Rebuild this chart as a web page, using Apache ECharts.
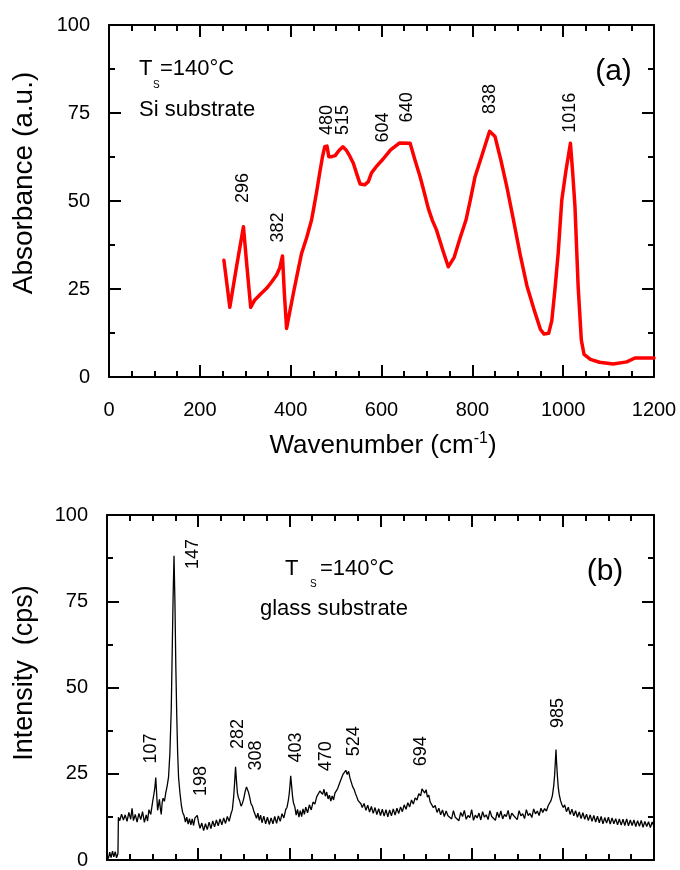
<!DOCTYPE html>
<html>
<head>
<meta charset="utf-8">
<title>IR absorbance and Raman spectra</title>
<script src="https://cdn.jsdelivr.net/npm/echarts@6/dist/echarts.min.js"></script>
<style>
  html, body { margin: 0; padding: 0; background: #fff; }
  #chart { width: 680px; height: 870px; }
</style>
</head>
<body>
<div id="chart"></div>
<script>
// ---- (a) IR absorbance, Si substrate ----
const irWavenumber = [253, 266, 281, 296, 304, 312, 321, 334, 347, 358, 369, 376, 382, 386, 391, 398, 406, 415, 424, 435,
  446, 450, 457, 464, 470, 475, 480, 484, 490, 498, 506, 515, 522, 530, 538, 546, 553, 563, 571, 578,
  590, 604, 620, 640, 663, 674, 685, 694, 703, 712, 721, 735, 747, 760, 773, 786, 796, 806, 820, 838,
  850, 863, 876, 890, 905, 920, 935, 950, 958, 968, 975, 982, 989, 997, 1006, 1016, 1021, 1026, 1033, 1040,
  1046, 1060, 1080, 1110, 1140, 1158, 1200];
const irAbsorbance = [33.2, 19.8, 31.5, 42.7, 31.0, 19.8, 21.9, 23.6, 25.2, 27.0, 29.0, 31.0, 34.4, 24.0, 13.8, 18.5, 23.8, 29.5, 35.1, 39.5,
  44.6, 47.4, 52.5, 58.0, 62.5, 65.4, 65.6, 62.6, 62.6, 62.9, 64.3, 65.4, 64.5, 62.8, 60.7, 57.5, 54.8, 54.6, 55.5, 58.0,
  60.0, 62.0, 64.5, 66.5, 66.4, 61.5, 56.9, 52.5, 47.9, 44.5, 41.8, 36.0, 31.3, 34.0, 39.5, 44.6, 50.5, 56.9, 62.5, 69.8,
  68.3, 61.5, 54.0, 45.0, 35.0, 26.0, 19.5, 13.5, 12.2, 12.4, 16.0, 25.0, 35.1, 50.3, 58.5, 66.4, 58.0, 48.4, 25.7, 10.5,
  6.4, 5.0, 4.2, 3.7, 4.3, 5.4, 5.4];
const irPeaks = [296, 382, 480, 515, 604, 640, 838, 1016];
const irPeakLabelHeight = [53.7, 42.5, 73.0, 73.0, 70.9, 76.6, 79.0, 75.1];

// ---- (b) Raman spectrum, glass substrate: [shift, intensity] ----
const ramanSpectrum = [
  [0,1.5],[3,0.4],[6,2.3],[9,0.7],[12,2.6],[15,0.9],[18,2.4],[21,0.6],[24,1.9],[25,12.4],
  [28,11.4],[32,13.3],[36,11.6],[40,13.1],[44,11.2],[48,13.8],[52,11.8],[55,15.0],[58,11.4],[62,13.2],
  [66,11.0],[70,13.5],[74,11.7],[78,14.0],[82,10.9],[86,13.1],[89,11.3],[92,14.6],[96,13.2],[100,16.8],
  [103,19.2],[105,21.0],[107,23.9],[109,19.0],[111,14.4],[113,15.9],[115,17.6],[117,15.0],[119,13.2],[121,16.6],
  [123,17.9],[126,17.0],[129,19.5],[132,21.5],[135,24.0],[138,31.0],[141,44.0],[143,60.0],[145,76.0],[147,88.2],
  [149,75.0],[151,56.0],[153,42.0],[155,31.0],[157,24.0],[160,19.5],[163,16.0],[166,13.8],[169,12.9],[172,11.0],
  [175,12.4],[178,10.4],[181,12.0],[184,10.2],[187,11.9],[190,10.0],[193,12.2],[196,12.0],[198,12.9],[201,10.8],
  [204,9.2],[208,10.7],[212,8.5],[216,10.5],[220,8.8],[224,11.0],[228,9.1],[232,11.3],[236,9.6],[240,11.6],
  [244,9.9],[248,11.9],[252,10.2],[256,12.2],[260,10.6],[264,12.6],[268,11.2],[272,13.4],[275,14.6],[278,18.5],
  [280,22.5],[282,27.0],[284,23.0],[286,19.5],[288,18.2],[291,17.2],[294,15.6],[297,16.4],[300,17.8],[303,19.8],
  [306,21.2],[308,21.6],[310,19.8],[313,18.2],[316,16.3],[319,15.6],[322,14.2],[325,13.7],[328,12.1],[331,13.6],
  [334,11.5],[337,13.0],[340,10.8],[344,12.7],[348,10.5],[352,12.4],[356,10.3],[360,12.2],[364,10.5],[368,12.6],
  [372,10.6],[376,12.8],[380,11.2],[384,13.4],[388,12.2],[392,14.6],[395,15.3],[398,17.4],[400,19.5],[402,22.5],
  [403,24.4],[405,21.5],[407,18.5],[409,16.6],[412,15.4],[415,13.0],[418,14.7],[421,12.4],[424,14.3],[427,12.6],
  [430,14.8],[433,13.2],[436,15.3],[440,13.7],[444,16.0],[448,14.5],[452,16.8],[456,16.2],[460,18.3],[464,17.9],
  [467,20.0],[470,20.2],[473,19.0],[476,20.5],[479,18.5],[482,19.7],[485,17.7],[488,18.8],[491,17.1],[494,18.6],
  [497,17.4],[500,19.4],[503,19.2],[506,20.7],[509,20.8],[512,22.9],[515,23.3],[518,24.9],[521,25.1],[524,26.0],
  [527,24.8],[530,25.7],[533,23.8],[536,23.4],[539,21.2],[542,20.5],[545,19.3],[548,18.3],[551,17.2],[554,16.8],
  [557,16.3],[560,15.2],[564,16.4],[568,14.4],[572,15.9],[576,13.9],[580,15.5],[584,13.5],[588,15.2],[592,13.2],
  [596,14.9],[600,12.9],[604,14.7],[608,12.7],[612,14.6],[616,12.5],[620,14.5],[624,12.8],[628,14.8],[632,13.0],
  [636,15.0],[640,13.5],[644,15.4],[648,14.0],[652,16.0],[656,14.7],[660,16.6],[664,15.4],[668,17.4],[672,16.2],
  [676,18.0],[680,17.4],[684,19.2],[688,18.6],[691,20.6],[694,21.0],[697,19.4],[700,20.4],[703,18.2],[706,18.8],
  [709,16.8],[712,17.3],[716,15.2],[720,15.8],[724,13.8],[728,15.0],[732,13.1],[736,14.5],[740,12.6],[744,14.2],
  [748,12.8],[752,13.2],[756,11.9],[760,14.3],[764,12.4],[768,12.9],[772,11.4],[776,13.8],[780,12.6],[784,14.4],
  [788,11.8],[792,12.9],[796,12.3],[800,14.6],[804,11.5],[808,13.0],[812,12.2],[816,13.6],[820,11.6],[824,14.0],
  [828,12.4],[832,13.1],[836,11.7],[840,14.3],[844,12.6],[848,12.9],[852,11.5],[856,13.9],[860,12.3],[864,14.2],
  [868,11.9],[872,13.2],[876,12.6],[880,14.4],[884,11.8],[888,13.6],[892,12.9],[896,13.3],[900,11.7],[904,14.3],
  [908,12.8],[912,13.4],[916,12.0],[920,14.6],[924,12.9],[928,13.5],[932,12.3],[936,14.8],[940,13.4],[944,14.2],
  [948,12.9],[952,15.0],[956,13.8],[960,14.9],[964,14.2],[968,15.8],[971,16.0],[974,17.2],[977,18.6],[980,21.5],
  [982,24.6],[984,29.5],[985,32.0],[986,29.0],[988,24.5],[990,21.0],[992,19.0],[995,17.2],[998,16.0],[1001,15.2],
  [1004,16.0],[1008,14.0],[1012,15.3],[1016,13.2],[1020,14.7],[1024,12.8],[1028,14.3],[1032,12.4],[1036,13.9],[1040,12.0],
  [1044,13.7],[1048,11.8],[1052,13.3],[1056,11.4],[1060,13.1],[1064,11.2],[1068,12.9],[1072,11.0],[1076,12.7],[1080,10.8],
  [1084,12.6],[1088,10.5],[1092,12.3],[1096,10.7],[1100,12.4],[1104,10.4],[1108,12.2],[1112,10.5],[1116,12.0],[1120,10.2],
  [1124,11.9],[1128,10.1],[1132,11.8],[1136,10.0],[1140,11.9],[1144,9.9],[1148,11.6],[1152,10.0],[1156,11.6],[1160,9.7],
  [1164,11.4],[1168,9.8],[1172,11.5],[1176,9.5],[1180,11.2],[1184,9.7],[1188,11.1],[1192,9.4],[1196,11.0],[1200,9.7]
];
const ramanPeaks = [107, 147, 198, 282, 308, 403, 470, 524, 694, 985];
const ramanPeakLabelHeight = [32.3, 88.7, 22.9, 36.5, 30.3, 32.6, 30.1, 34.4, 31.5, 42.6];

// Shared axis scale
const xRange = { min: 0, max: 1200, interval: 200 };
const yRange = { min: 0, max: 100, interval: 25 };

// ---- styling ----
const FONT = "'Liberation Sans', Arial, Helvetica, sans-serif";
const INK = '#000';
// sideways nudges (px) so the peak labels clear their lines
const irLabelShift = { 382: -4, 640: 7 };
const ramanLabelShift = { 107: -5, 147: 19, 198: 4, 282: 2, 308: 9, 403: 5, 470: 5, 524: 8, 694: -2, 985: 2 };

function frameAxis(kind, grid, position, labelled, range) {
  return {
    type: 'value', gridIndex: grid, position: position,
    min: range.min, max: range.max, interval: range.interval,
    axisLine: { show: true, onZero: false, lineStyle: { color: INK, width: 2 } },
    axisTick: { show: true, inside: true, length: 12, lineStyle: { color: INK, width: 2 } },
    minorTick: { show: true, splitNumber: kind === 'x' ? 4 : 2, length: 6, lineStyle: { color: INK, width: 2 } },
    splitLine: { show: false },
    axisLabel: {
      show: labelled, color: INK, fontSize: 20, fontFamily: FONT,
      margin: kind === 'x' ? 23 : 19, showMinLabel: true, showMaxLabel: true,
      formatter: (v) => String(v)
    }
  };
}

function peakLabels(peaks, heights, shift, xi, yi) {
  return {
    type: 'scatter', xAxisIndex: xi, yAxisIndex: yi, silent: true,
    symbolSize: 1, itemStyle: { color: 'rgba(0,0,0,0)' }, z: 5,
    data: peaks.map((p, i) => ({
      value: [p, heights[i]],
      // the label is turned 90°, so a sideways shift sits on its local y
      label: { offset: [0, shift[p] || 0] }
    })),
    label: {
      show: true, position: 'inside', rotate: 90,
      align: 'center', verticalAlign: 'middle',
      formatter: (d) => String(d.value[0]),
      color: INK, opacity: 1, textBorderWidth: 0,
      fontSize: 18, fontFamily: FONT
    }
  };
}

function txt(x, y, text, size, extra) {
  return Object.assign({
    type: 'text', x: x, y: y, silent: true,
    style: Object.assign({
      text: text, font: size + 'px ' + FONT, fill: INK,
      align: 'left', verticalAlign: 'middle',
      textAlign: 'left', textVerticalAlign: 'middle'
    }, (extra && extra.style) || {})
  }, (extra && extra.el) || {});
}

const chart = echarts.init(document.getElementById('chart'), null, { renderer: 'canvas' });

chart.setOption({
  animation: false,
  backgroundColor: '#fff',
  grid: [
    { left: 109, right: 26, top: 25, height: 352 },
    { left: 107, right: 26, top: 515, height: 353 }
  ],
  xAxis: [
    frameAxis('x', 0, 'bottom', true, xRange),
    frameAxis('x', 0, 'top', false, xRange),
    frameAxis('x', 1, 'bottom', false, xRange),
    frameAxis('x', 1, 'top', false, xRange)
  ],
  yAxis: [
    frameAxis('y', 0, 'left', true, yRange),
    frameAxis('y', 0, 'right', false, yRange),
    frameAxis('y', 1, 'left', true, yRange),
    frameAxis('y', 1, 'right', false, yRange)
  ],
  series: [
    {
      type: 'line', xAxisIndex: 0, yAxisIndex: 0, silent: true, symbol: 'none',
      data: irWavenumber.map((w, i) => [w, irAbsorbance[i]]),
      lineStyle: { color: '#ff0000', width: 3.5, cap: 'round', join: 'round' }
    },
    {
      type: 'line', xAxisIndex: 2, yAxisIndex: 2, silent: true, symbol: 'none',
      data: ramanSpectrum,
      lineStyle: { color: '#000', width: 1.3 }
    },
    peakLabels(irPeaks, irPeakLabelHeight, irLabelShift, 0, 0),
    peakLabels(ramanPeaks, ramanPeakLabelHeight, ramanLabelShift, 2, 2)
  ],
  graphic: [
    // axis titles
    txt(24, 183, 'Absorbance (a.u.)', 28, {
      el: { rotation: Math.PI / 2 },
      style: { align: 'center', textAlign: 'center' }
    }),
    {
      type: 'text', x: 383, y: 446, silent: true,
      style: {
        text: '{m|Wavenumber (cm}{s|-1}{m|)}',
        align: 'center', verticalAlign: 'middle', textAlign: 'center', textVerticalAlign: 'middle',
        fill: INK,
        rich: {
          m: { fontSize: 26, fontFamily: FONT, lineHeight: 30, fill: INK },
          s: { fontSize: 16, fontFamily: FONT, verticalAlign: 'top', lineHeight: 30, fill: INK }
        }
      }
    },
    txt(25, 673, 'Intensity  (cps)', 27, {
      el: { rotation: Math.PI / 2 },
      style: { align: 'center', textAlign: 'center' }
    }),
    // panel (a) notes
    txt(139, 68.5, 'T', 22),
    txt(153, 85, 'S', 10),
    txt(160, 68.5, '=140°C', 22),
    txt(139, 110, 'Si substrate', 22),
    txt(613.5, 71.5, '(a)', 30, { style: { align: 'center', textAlign: 'center' } }),
    // panel (b) notes
    txt(285, 568.5, 'T', 22),
    txt(310, 584, 'S', 10),
    txt(320, 568.5, '=140°C', 22),
    txt(260, 609, 'glass substrate', 22),
    txt(605, 572, '(b)', 30, { style: { align: 'center', textAlign: 'center' } })
  ]
});
</script>
</body>
</html>
